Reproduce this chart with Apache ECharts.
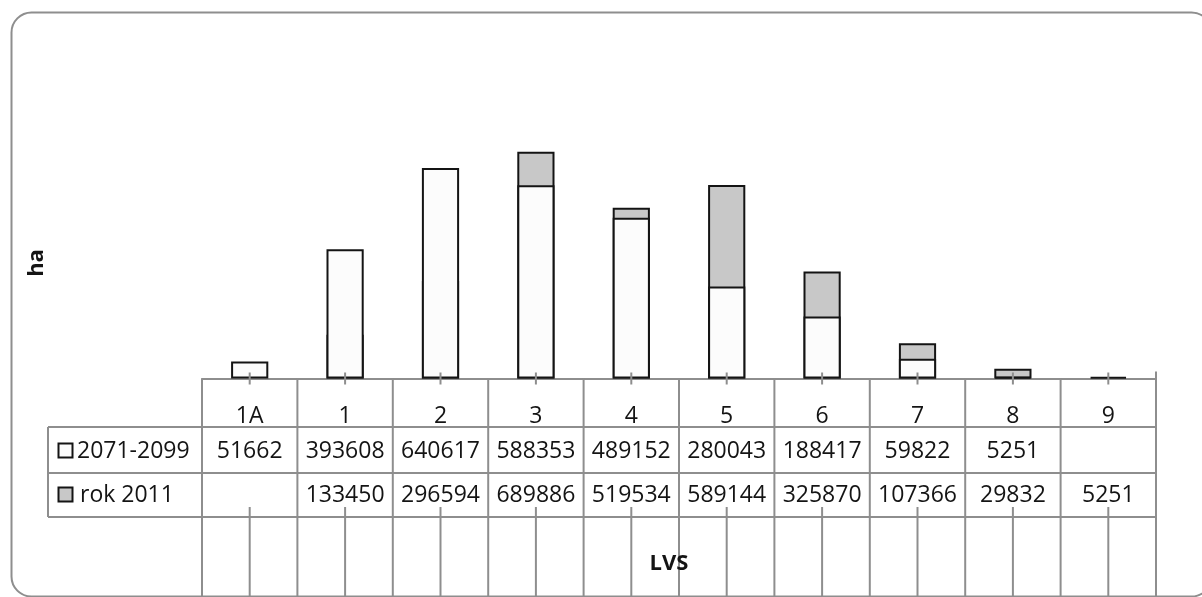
<!DOCTYPE html>
<html>
<head>
<meta charset="utf-8">
<script src="https://cdn.jsdelivr.net/npm/echarts@6/dist/echarts.min.js"></script>
<style>
  html, body { margin: 0; padding: 0; background: #fff; }
  #chart { width: 1202px; height: 597px; }
</style>
</head>
<body>
<div id="chart"></div>
<script>
// Land area (ha) per LVS category
const categories = ['1A', '1', '2', '3', '4', '5', '6', '7', '8', '9'];
const seriesNames = ['2071-2099', 'rok 2011'];
const future2071 = [51662, 393608, 640617, 588353, 489152, 280043, 188417, 59822, 5251, null];
const year2011 = [null, 133450, 296594, 689886, 519534, 589144, 325870, 107366, 29832, 5251];
const valueAxisMax = 1000000;
const yTitle = 'ha';
const xTitle = 'LVS';

const FONT = '"Open Sans", "Liberation Sans", sans-serif';
const TEXT_COLOR = '#141414';
const LINE_COLOR = '#8e8e8e';
const BAR_BORDER = '#141414';
const fills = ['#fcfcfc', '#c8c8c8'];

const chart = echarts.init(document.getElementById('chart'), null, { renderer: 'canvas' });

const option = {
  backgroundColor: '#ffffff',
  animation: false,
  grid: { left: 202, right: 46, top: 50, bottom: 218.5, containLabel: false, outerBoundsMode: 'none' },
  xAxis: {
    type: 'category',
    data: categories,
    axisLine: { lineStyle: { color: LINE_COLOR, width: 2 } },
    axisTick: { show: false },
    axisLabel: { color: TEXT_COLOR, fontFamily: FONT, fontSize: 23, margin: 26, interval: 0 }
  },
  yAxis: {
    type: 'value',
    min: 0,
    max: valueAxisMax,
    axisLine: { show: false },
    axisTick: { show: false },
    axisLabel: { show: false },
    splitLine: { show: false }
  },
  series: [
    {
      // drawn behind
      name: seriesNames[1],
      type: 'bar',
      data: year2011,
      barWidth: '39%',
      barGap: '-100%',
      itemStyle: { color: fills[1], borderColor: BAR_BORDER, borderWidth: 2 }
    },
    {
      // drawn in front, overlapping
      name: seriesNames[0],
      type: 'bar',
      data: future2071,
      barWidth: '39%',
      barGap: '-100%',
      itemStyle: { color: fills[0], borderColor: BAR_BORDER, borderWidth: 2 }
    }
  ]
};

chart.setOption(option);

// Data table under the category axis, laid out from the axis scale
function buildTable() {
  const c0 = chart.convertToPixel({ xAxisIndex: 0 }, 0);
  const c1 = chart.convertToPixel({ xAxisIndex: 0 }, 1);
  const band = c1 - c0;
  const yAxisPix = chart.convertToPixel({ yAxisIndex: 0 }, 0);
  const xStart = c0 - band / 2;
  const xEnd = chart.convertToPixel({ xAxisIndex: 0 }, categories.length - 1) + band / 2;

  const tableLeft = 48;
  const headerBottom = 427;
  const row1Bottom = 473;
  const row2Bottom = 517;
  const bottomEdge = 600;
  const rowCenters = [451, 495];
  const rows = [future2071, year2011];

  const els = [];
  const line = (x1, y1, x2, y2) => els.push({
    type: 'line', silent: true, z: 10,
    shape: { x1, y1, x2, y2 },
    style: { stroke: LINE_COLOR, lineWidth: 2 }
  });

  // horizontal rules
  [headerBottom, row1Bottom, row2Bottom].forEach(y => line(tableLeft, y, xEnd, y));
  // left border of the series-name column
  line(tableLeft, headerBottom, tableLeft, row2Bottom);
  // column boundaries
  for (let i = 0; i <= categories.length; i++) {
    const x = xStart + i * band;
    const top = i === categories.length ? yAxisPix - 7 : yAxisPix;
    line(x, top, x, bottomEdge);
  }
  // ticks at category centres and their drop lines
  categories.forEach((c, i) => {
    const x = chart.convertToPixel({ xAxisIndex: 0 }, i);
    line(x, yAxisPix - 6, x, yAxisPix + 6);
    line(x, 507, x, bottomEdge);
  });

  // values
  rows.forEach((arr, r) => {
    arr.forEach((v, i) => {
      if (v == null) return;
      const x = chart.convertToPixel({ xAxisIndex: 0 }, i);
      els.push({
        type: 'text', silent: true, z: 11,
        style: {
          text: String(v), x, y: rowCenters[r],
          align: 'center', verticalAlign: 'middle',
          fontFamily: FONT, fontSize: 23, fill: TEXT_COLOR
        }
      });
    });
  });

  // series keys
  seriesNames.forEach((name, r) => {
    els.push({
      type: 'rect', silent: true, z: 11,
      shape: { x: 58.5, y: rowCenters[r] - 7.5, width: 14, height: 14 },
      style: { fill: fills[r], stroke: BAR_BORDER, lineWidth: 2 }
    });
    els.push({
      type: 'text', silent: true, z: 11,
      style: {
        text: name, x: r === 0 ? 77 : 80, y: rowCenters[r],
        align: 'left', verticalAlign: 'middle',
        fontFamily: FONT, fontSize: 23, fill: TEXT_COLOR
      }
    });
  });

  // axis titles
  els.push({
    type: 'text', silent: true, z: 11,
    x: 37, y: 263, rotation: Math.PI / 2,
    style: {
      text: yTitle, x: 0, y: 0, align: 'center', verticalAlign: 'middle',
      fontFamily: FONT, fontSize: 22, fontWeight: 'bold', fill: TEXT_COLOR
    }
  });
  els.push({
    type: 'text', silent: true, z: 11,
    style: {
      text: xTitle, x: 669, y: 564, align: 'center', verticalAlign: 'middle',
      fontFamily: FONT, fontSize: 22, fontWeight: 'bold', fill: TEXT_COLOR
    }
  });

  // chart-area frame with rounded corners
  els.push({
    type: 'rect', silent: true, z: 0,
    shape: { x: 11.5, y: 12.5, width: 1200, height: 584, r: 20 },
    style: { fill: 'none', stroke: LINE_COLOR, lineWidth: 2 }
  });

  chart.setOption({ graphic: { elements: els } });
}

buildTable();
</script>
</body>
</html>
